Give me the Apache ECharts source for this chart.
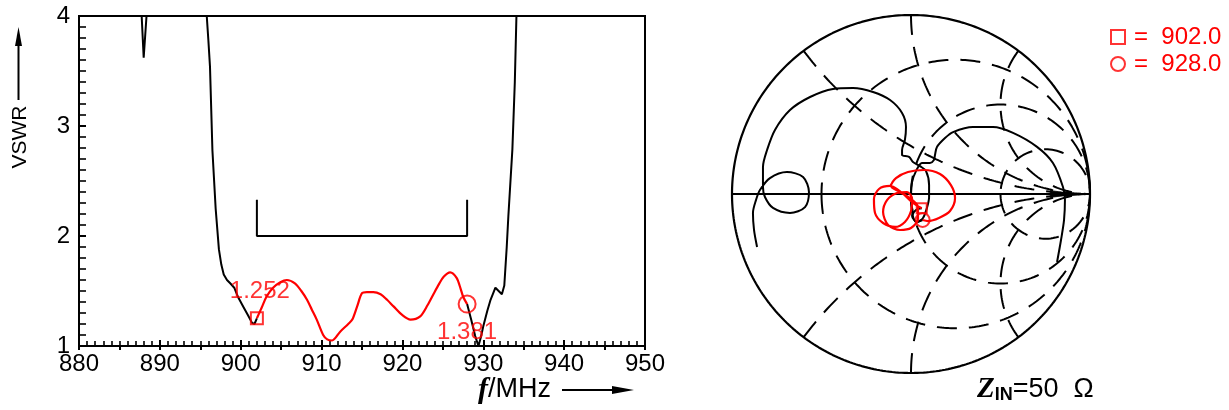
<!DOCTYPE html>
<html><head><meta charset="utf-8">
<script src="https://cdn.jsdelivr.net/npm/echarts@6/dist/echarts.min.js"></script>
<style>html,body{margin:0;padding:0;background:#fff}#c{width:1229px;height:410px}</style>
</head><body><div id="c"></div>
<script>
const FONT = 'Liberation Sans, Arial, sans-serif';
const SERIF = 'Liberation Serif, Times New Roman, serif';

// ---- VSWR plot data ----
const xTicks = [880, 890, 900, 910, 920, 930, 940, 950];
const yTicks = [1, 2, 3, 4];
const blackLowFreq = [880, 887.6, 887.75, 888.0, 888.35, 888.5, 895.6, 895.8, 896.0, 896.2, 896.5, 896.9, 897.3, 897.6, 897.9, 898.3, 898.7, 899.2, 899.7, 900.3, 900.9, 901.4, 901.7, 902.0];
const blackLowVswr = [5.0, 4.3, 4.0, 3.62, 4.0, 4.3, 5.0, 4.0, 3.78, 3.54, 2.78, 2.25, 1.88, 1.74, 1.65, 1.6, 1.57, 1.53, 1.44, 1.36, 1.28, 1.21, 1.2, 1.252];
const redFreq = [902.0, 902.6, 903.2, 904.0, 904.9, 905.7, 906.7, 907.5, 908.2, 908.8, 909.4, 910.2, 910.7, 911.3, 912.3, 913.3, 913.8, 914.4, 915.0, 915.6, 916.4, 917.3, 918.1, 918.9, 920.0, 921.0, 922.2, 923.1, 923.9, 924.5, 925.1, 925.9, 926.7, 927.2, 927.5, 928.0];
const redVswr = [1.252, 1.35, 1.45, 1.53, 1.58, 1.60, 1.57, 1.50, 1.42, 1.33, 1.24, 1.10, 1.06, 1.05, 1.13, 1.20, 1.24, 1.36, 1.48, 1.49, 1.49, 1.47, 1.42, 1.36, 1.28, 1.24, 1.27, 1.37, 1.48, 1.56, 1.63, 1.67, 1.62, 1.52, 1.45, 1.381];
const blackHighFreq = [928.0, 928.5, 929.0, 929.4, 929.7, 930.0, 930.5, 930.9, 931.5, 931.9, 932.3, 932.6, 932.9, 933.1, 933.6, 933.9, 934.1, 934.5, 950];
const blackHighVswr = [1.381, 1.24, 1.09, 1.0, 1.08, 1.18, 1.32, 1.42, 1.53, 1.50, 1.47, 1.55, 1.9, 2.18, 2.79, 3.4, 4.0, 4.6, 5.0];
const specFreq = [902, 902, 928, 928];
const specVswr = [2.33, 2.0, 2.0, 2.33];
const markerFreq = [902.0, 928.0];
const markerVswr = [1.252, 1.381];
const markerText = ['1.252', '1.381'];
const legendText = ['=  902.0', '=  928.0'];

// ---- Smith chart data (reflection coefficient) ----
const smithR = [1 / 3, 1, 3];
const smithX = [0.5, 1, 2, -0.5, -1, -2];
const lowRe = [-0.860, -0.877, -0.883, -0.866, -0.844, -0.788, -0.693, -0.603, -0.570, -0.592, -0.676, -0.771, -0.816, -0.827, -0.827, -0.804, -0.760, -0.676, -0.564, -0.436, -0.324, -0.212, -0.117, -0.050, -0.028, -0.034, -0.050, -0.050, -0.011, 0.011, 0.050, 0.084, 0.101, 0.101, 0.089, 0.067, 0.034, 0.006, 0.028, 0.060];
const lowIm = [-0.296, -0.201, -0.106, -0.034, 0.022, 0.089, 0.123, 0.095, 0.011, -0.073, -0.106, -0.078, -0.017, 0.039, 0.151, 0.246, 0.358, 0.469, 0.542, 0.587, 0.592, 0.570, 0.525, 0.453, 0.374, 0.302, 0.246, 0.218, 0.207, 0.179, 0.156, 0.128, 0.050, -0.017, -0.078, -0.134, -0.156, -0.123, -0.089, -0.080];
const redRe = [0.060, 0.011, -0.050, -0.117, -0.179, -0.207, -0.201, -0.156, -0.089, -0.034, 0.000, 0.006, -0.022, -0.078, -0.134, -0.156, -0.128, -0.061, 0.000, 0.039, 0.039, 0.000, -0.061, -0.112, -0.084, -0.017, 0.073, 0.162, 0.223, 0.246, 0.218, 0.156, 0.095, 0.065];
const redIm = [-0.080, -0.050, 0.006, 0.045, 0.028, -0.028, -0.106, -0.162, -0.184, -0.156, -0.095, -0.028, 0.011, 0.006, -0.034, -0.101, -0.173, -0.201, -0.190, -0.140, -0.073, -0.028, 0.011, 0.045, 0.089, 0.123, 0.134, 0.112, 0.050, -0.022, -0.095, -0.134, -0.151, -0.145];
const highRe = [0.065, 0.028, 0.006, 0.000, 0.006, 0.028, 0.061, 0.106, 0.128, 0.134, 0.145, 0.190, 0.235, 0.346, 0.458, 0.570, 0.704, 0.793, 0.849, 0.860, 0.855, 0.838, 0.816];
const highIm = [-0.145, -0.156, -0.101, -0.006, 0.067, 0.128, 0.173, 0.173, 0.190, 0.218, 0.263, 0.313, 0.346, 0.374, 0.374, 0.341, 0.263, 0.173, 0.039, -0.034, -0.145, -0.257, -0.380];
const smithMarkRe = [0.060, 0.065];
const smithMarkIm = [-0.080, -0.145];

const zip = (a, b) => a.map((v, i) => [v, b[i]]);

// Smith grid geometry from r / x values
function rCircle(r) {
  const c = r / (1 + r), rho = 1 / (1 + r), pts = [];
  for (let i = 0; i <= 360; i++) {
    const p = Math.PI + 2 * Math.PI * i / 360;
    pts.push([c + rho * Math.cos(p), rho * Math.sin(p)]);
  }
  return pts;
}
function xArc(x) {
  const pts = [];
  for (let i = 0; i <= 300; i++) {
    const r = Math.tan((Math.PI / 2) * 0.997 * i / 300);
    const D = (r + 1) * (r + 1) + x * x;
    pts.push([(r * r + x * x - 1) / D, 2 * x / D]);
  }
  return pts;
}
function unitCircle() {
  const pts = [];
  for (let i = 0; i <= 360; i++) {
    const p = 2 * Math.PI * i / 360;
    pts.push([Math.cos(p), Math.sin(p)]);
  }
  return pts;
}

const BLACK = '#000', RED = '#ff0000';
const series = [];
// VSWR plot
series.push({ type: 'line', data: zip(blackLowFreq, blackLowVswr), showSymbol: false, lineStyle: { color: BLACK, width: 2 }, z: 3 });
series.push({ type: 'line', data: zip(redFreq, redVswr), showSymbol: false, smooth: 0.3, lineStyle: { color: RED, width: 2.2 }, z: 4 });
series.push({ type: 'line', data: zip(blackHighFreq, blackHighVswr), showSymbol: false, lineStyle: { color: BLACK, width: 2 }, z: 3 });
series.push({ type: 'line', data: zip(specFreq, specVswr), showSymbol: false, lineStyle: { color: BLACK, width: 2 }, z: 3 });
series.push({ name: legendText[0], type: 'scatter', data: [[markerFreq[0], markerVswr[0]]], symbol: 'rect', symbolSize: 12,
  itemStyle: { color: 'transparent', borderColor: RED, borderWidth: 2 }, z: 5,
  label: { show: true, formatter: markerText[0], position: 'top', distance: 8, offset: [3, 0], color: RED, fontSize: 24, fontFamily: FONT } });
series.push({ name: legendText[1], type: 'scatter', data: [[markerFreq[1], markerVswr[1]]], symbol: 'circle', symbolSize: 17,
  itemStyle: { color: 'transparent', borderColor: RED, borderWidth: 2 }, z: 5,
  label: { show: true, formatter: markerText[1], position: 'bottom', distance: 7, color: RED, fontSize: 24, fontFamily: FONT } });
// Smith chart
const sm = { xAxisIndex: 2, yAxisIndex: 1 };
smithR.forEach(r => series.push(Object.assign({ type: 'line', data: rCircle(r), showSymbol: false, lineStyle: { color: BLACK, width: 2, type: [20, 12] }, z: 2 }, sm)));
smithX.forEach(x => series.push(Object.assign({ type: 'line', data: xArc(x), showSymbol: false, lineStyle: { color: BLACK, width: 2, type: [20, 12] }, z: 2 }, sm)));
series.push(Object.assign({ type: 'line', data: unitCircle(), showSymbol: false, lineStyle: { color: BLACK, width: 2.2 }, z: 3 }, sm));
series.push(Object.assign({ type: 'line', data: [[-1, 0], [1, 0]], showSymbol: false, lineStyle: { color: BLACK, width: 2 }, z: 3 }, sm));
series.push(Object.assign({ type: 'scatter', data: [[0.86, 0]], symbol: 'triangle', symbolSize: [8, 30], symbolRotate: -90, itemStyle: { color: BLACK }, z: 3 }, sm));
series.push(Object.assign({ type: 'line', data: zip(lowRe, lowIm), showSymbol: false, smooth: 0.3, lineStyle: { color: BLACK, width: 2 }, z: 3 }, sm));
series.push(Object.assign({ type: 'line', data: zip(highRe, highIm), showSymbol: false, smooth: 0.3, lineStyle: { color: BLACK, width: 2 }, z: 3 }, sm));
series.push(Object.assign({ type: 'line', data: zip(redRe, redIm), showSymbol: false, smooth: 0.3, lineStyle: { color: RED, width: 2.2 }, z: 4 }, sm));
series.push(Object.assign({ name: legendText[0], type: 'scatter', data: [[smithMarkRe[0], smithMarkIm[0]]], symbol: 'rect', symbolSize: 10,
  itemStyle: { color: 'transparent', borderColor: RED, borderWidth: 2 }, z: 5 }, sm));
series.push(Object.assign({ name: legendText[1], type: 'scatter', data: [[smithMarkRe[1], smithMarkIm[1]]], symbol: 'circle', symbolSize: 14,
  itemStyle: { color: 'transparent', borderColor: RED, borderWidth: 2 }, z: 5 }, sm));

const axisTxt = { color: BLACK, fontSize: 24, fontFamily: FONT };
const option = {
  animation: false,
  backgroundColor: '#fff',
  grid: [
    { left: 79, top: 16, width: 566, height: 330, show: true, borderColor: BLACK, borderWidth: 2, backgroundColor: 'transparent' },
    { left: 732, top: 15, width: 358, height: 358 }
  ],
  xAxis: [
    { gridIndex: 0, type: 'value', min: xTicks[0], max: xTicks[xTicks.length - 1], interval: 10, position: 'bottom',
      axisLine: { lineStyle: { color: BLACK, width: 2 } },
      axisTick: { inside: true, length: 6, lineStyle: { color: BLACK, width: 2 } },
      minorTick: { show: true, splitNumber: 10, length: 5, lineStyle: { color: BLACK, width: 1.6 } },
      axisLabel: Object.assign({ margin: 6 }, axisTxt), splitLine: { show: false } },
    { gridIndex: 0, type: 'value', min: 880, max: 950, interval: 5, position: 'bottom',
      axisLine: { show: false }, axisLabel: { show: false }, splitLine: { show: false },
      axisTick: { inside: false, length: 4, lineStyle: { color: BLACK, width: 2 } } },
    { gridIndex: 1, type: 'value', min: -1, max: 1, show: false }
  ],
  yAxis: [
    { gridIndex: 0, type: 'value', min: yTicks[0], max: yTicks[yTicks.length - 1], interval: 1,
      axisLine: { lineStyle: { color: BLACK, width: 2 } },
      axisTick: { inside: true, length: 7, lineStyle: { color: BLACK, width: 2 } },
      minorTick: { show: true, splitNumber: 10, length: 7, lineStyle: { color: BLACK, width: 1.6 } },
      axisLabel: Object.assign({ margin: 9 }, axisTxt), splitLine: { show: false } },
    { gridIndex: 1, type: 'value', min: -1, max: 1, show: false }
  ],
  legend: {
    data: [{ name: legendText[0], icon: 'rect' }, { name: legendText[1], icon: 'circle' }],
    orient: 'vertical', left: 1105, top: 20, itemWidth: 14, itemHeight: 14, itemGap: 3,
    selectedMode: false,
    itemStyle: { color: 'transparent', borderColor: RED, borderWidth: 2 },
    textStyle: { color: RED, fontSize: 24, fontFamily: FONT, padding: [0, 0, 0, 4] }
  },
  graphic: [
    { type: 'text', x: 20, y: 137, rotation: Math.PI / 2,
      style: { text: 'VSWR', fontSize: 21, fontFamily: FONT, fill: BLACK, align: 'center', verticalAlign: 'middle' } },
    { type: 'line', shape: { x1: 18.5, y1: 100, x2: 18.5, y2: 40 }, style: { stroke: BLACK, lineWidth: 2 } },
    { type: 'polygon', shape: { points: [[18.5, 27], [15, 46], [22, 46]] }, style: { fill: BLACK } },
    { type: 'text', x: 478, y: 390,
      style: { text: '{f|f}{t|/MHz}', verticalAlign: 'middle',
        rich: { f: { fontSize: 30, fontStyle: 'italic', fontWeight: 'bold', fontFamily: SERIF, fill: BLACK },
                t: { fontSize: 27, fontFamily: FONT, fill: BLACK } } } },
    { type: 'line', shape: { x1: 562, y1: 390, x2: 616, y2: 390 }, style: { stroke: BLACK, lineWidth: 2 } },
    { type: 'polygon', shape: { points: [[634, 390], [612, 386], [612, 394]] }, style: { fill: BLACK } },
    { type: 'text', x: 977, y: 390,
      style: { text: '{z|Z}{s|IN}{t|=50  Ω}', verticalAlign: 'middle',
        rich: { z: { fontSize: 29, fontStyle: 'italic', fontWeight: 'bold', fontFamily: SERIF, fill: BLACK },
                s: { fontSize: 18, fontWeight: 'bold', fontFamily: FONT, fill: BLACK, verticalAlign: 'bottom' },
                t: { fontSize: 27, fontFamily: FONT, fill: BLACK } } } }
  ],
  series: series
};
const chart = echarts.init(document.getElementById('c'), null, { renderer: 'canvas' });
chart.setOption(option);
</script>
</body></html>
